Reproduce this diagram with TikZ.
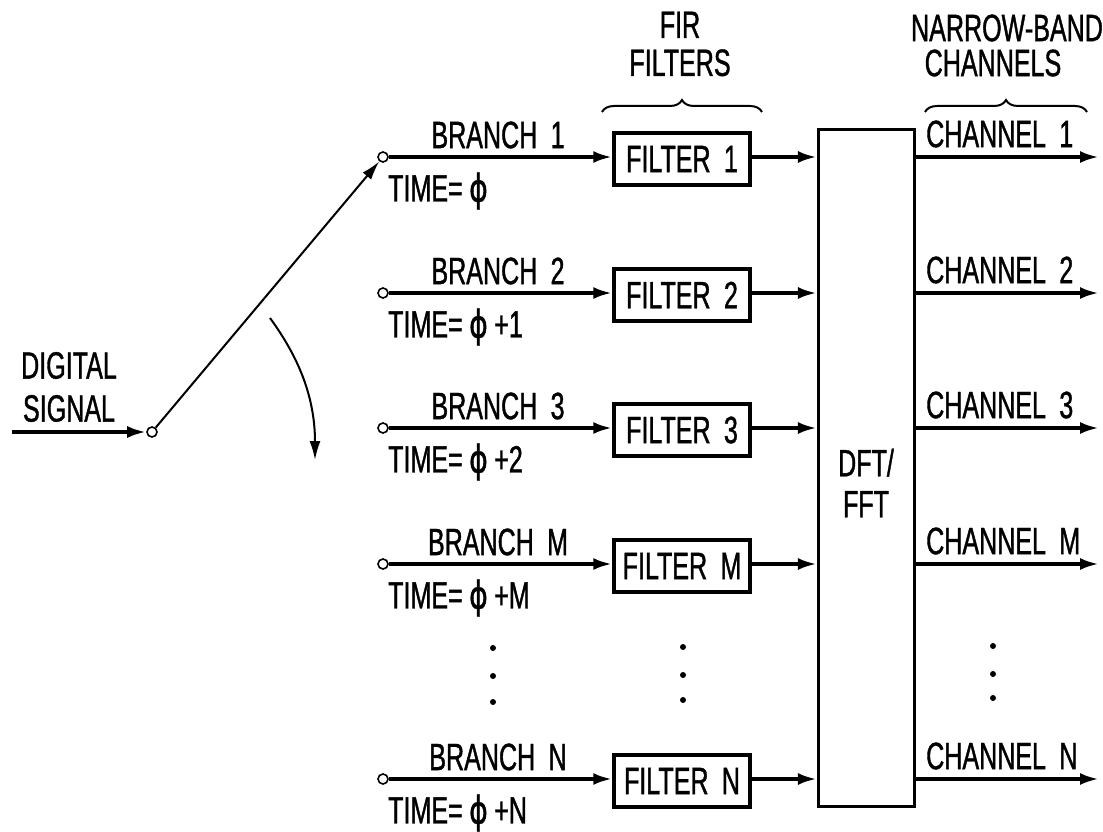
\documentclass[tikz,border=0pt]{standalone}
\usepackage{fontspec}
\setmainfont[FakeStretch=0.66,FakeBold=1]{Liberation Sans}
\newfontfamily\phifont[FakeStretch=0.75,FakeBold=1]{DejaVu Sans}
\usetikzlibrary{arrows.meta,decorations.pathreplacing}
\newcommand{\myphi}{{\phifont ϕ}}
\begin{document}
\begin{tikzpicture}[x=1pt,y=-1pt,
  every node/.style={font=\fontsize{38}{42}\selectfont},
  term/.style={circle,draw,line width=1.6pt,fill=white,inner sep=0pt,minimum size=10pt},
  fbox/.style={draw,line width=3.5pt,minimum width=136pt,minimum height=52pt,inner sep=0pt},
  sig/.style={line width=3.6pt,-{Latex[length=19pt,width=12pt]}},
  thin arrow/.style={line width=2pt,-{Latex[length=19pt,width=11pt]}},
  lbl/.style={inner sep=0pt},
  brc/.style={decorate,decoration={brace,amplitude=12pt},line width=2pt}]
\useasboundingbox (0,0) rectangle (1103,832);

% DFT/FFT block
\node[draw,line width=3.2pt,minimum width=96pt,minimum height=677pt,inner sep=0pt] (dft) at (866.5,468) {};
\node[lbl,align=center,font=\fontsize{38}{41}\selectfont] (dftlbl) at (866,483) {DFT/\\FFT};

% rows
\foreach \n/\y/\tm in {1/157/{}, 2/293/{+1}, 3/428/{+2}, M/564/{+M}, N/779/{+N}}{
  \node[term] (c\n) at (383,\y) {};
  \node[fbox] (f\n) at (682,\y+2) {FILTER\ \,\n};
  \draw[sig] (c\n) -- (f\n.west |- c\n);
  \draw[sig] (f\n.east |- c\n) -- (dft.west |- c\n);
  \coordinate (o\n) at (1099,\y);
  \draw[sig] (dft.east |- c\n) -- (o\n);
  \node[lbl] (b\n) at (498,\y-22) {BRANCH\ \,\n};
  \node[lbl,anchor=west] (t\n) at (388,\y+34) {TIME=\,\myphi\,\tm};
  \node[lbl,anchor=west] (ch\n) at (926,\y-23) {CHANNEL\ \,\n};
}

% input and commutator
\node[term] (in) at (152,432) {};
\coordinate (src) at (12,432);
\draw[sig] (src) -- (in);
\draw[thin arrow] (in) -- (c1);
\node[lbl,align=center,font=\fontsize{38}{43}\selectfont] (dig) at (69,387) {DIGITAL\\SIGNAL};
\coordinate (r0) at (270,318);
\coordinate (r1) at (315,460);
\draw[thin arrow] (r0) .. controls (297,355) and (315,395) .. (r1);

% ellipsis dots
\foreach \x/\a/\b/\c in {493/648/676/702, 683/647/675/700, 993/646/674/698}{
  \fill (\x,\a) circle[radius=3];
  \fill (\x,\b) circle[radius=3];
  \fill (\x,\c) circle[radius=3];
}

% headers
\node[lbl,align=center,font=\fontsize{38}{38}\selectfont] (fir) at (680,44) {FIR\\FILTERS};
\draw[brc] (602,112) -- (762,112);
\node[lbl] (nb) at (1007,28) {NARROW-BAND};
\node[lbl] (chs) at (993,63) {CHANNELS};
\draw[brc] (925,112) -- (1087,112);
\end{tikzpicture}
\end{document}
